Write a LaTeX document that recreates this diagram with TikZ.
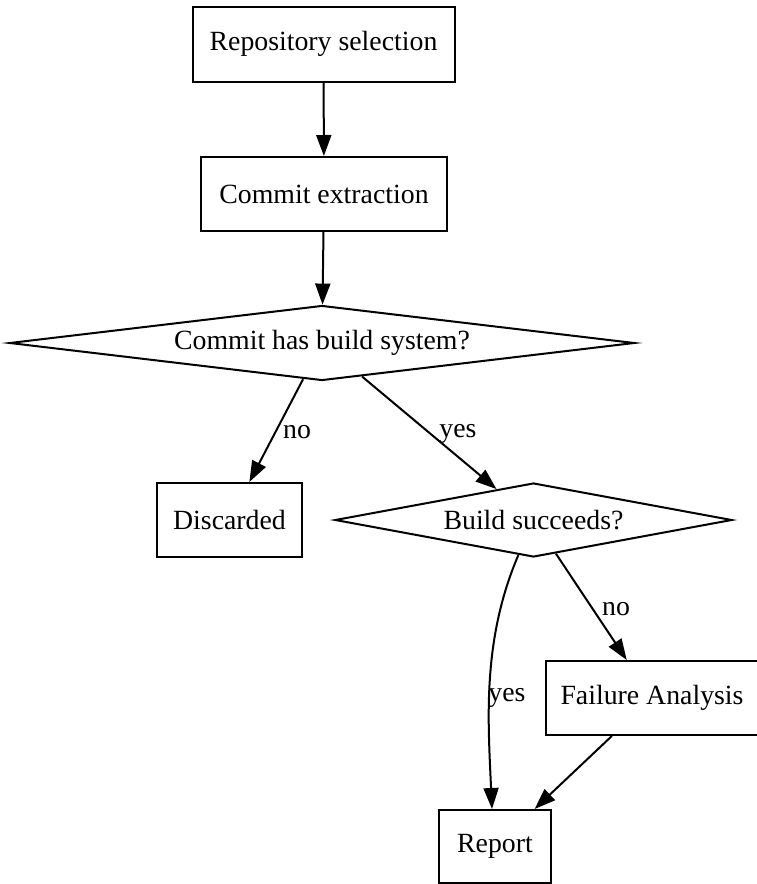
\documentclass[tikz,border=0pt]{standalone}
\usepackage{fontspec}
\setmainfont{Liberation Serif}
\usetikzlibrary{shapes.geometric,arrows.meta,calc}
\begin{document}
\begin{tikzpicture}[x=1pt,y=-1pt,
  every node/.style={font=\fontsize{27.8}{30}\selectfont},
  box/.style={draw,line width=2pt,rectangle,inner sep=0pt},
  dia/.style={draw,line width=2pt,diamond,inner sep=0pt},
  lbl/.style={inner sep=0pt},
  conn/.style={line width=2pt,-{Triangle[length=21pt,width=15pt]}}]
\useasboundingbox (0,0) rectangle (756,884);
\node[box,minimum width=262pt,minimum height=75pt] (repo) at (323.5,44) {Repository selection};
\node[box,minimum width=246pt,minimum height=74pt] (extr) at (324,194) {Commit extraction};
\node[dia,aspect=8.33,minimum width=625pt,minimum height=75pt] (d1) at (322,343) {Commit has build system?};
\node[box,minimum width=145pt,minimum height=74pt] (disc) at (229.5,520) {Discarded};
\node[dia,aspect=5.36,minimum width=397pt,minimum height=74pt] (d2) at (533.5,520) {Build succeeds?};
\node[box,minimum width=212pt,minimum height=74pt] (fail) at (652,698) {Failure Analysis};
\node[box,minimum width=112pt,minimum height=73pt] (rep) at (495,846.5) {Report};
\draw[conn] (repo) -- (extr);
\draw[conn] (extr) -- (d1);
\draw[conn] (d1) -- (disc);
\draw[conn] (d1) -- (d2);
\draw[conn] (d2) -- (fail);
\draw[conn] (fail) -- (rep);
\coordinate (ys) at ($(d2.south)!0.076!(d2.west)$);
\coordinate (ye) at ($(rep.north)+(-3,0)$);
\draw[conn] (ys) .. controls (482,640) and (488,720) .. (ye);
\node[lbl] (l1) at (297,432) {no};
\node[lbl] (l2) at (458,434) {yes};
\node[lbl] (l3) at (616,609) {no};
\node[lbl] (l4) at (507,698) {yes};
\end{tikzpicture}
\end{document}
